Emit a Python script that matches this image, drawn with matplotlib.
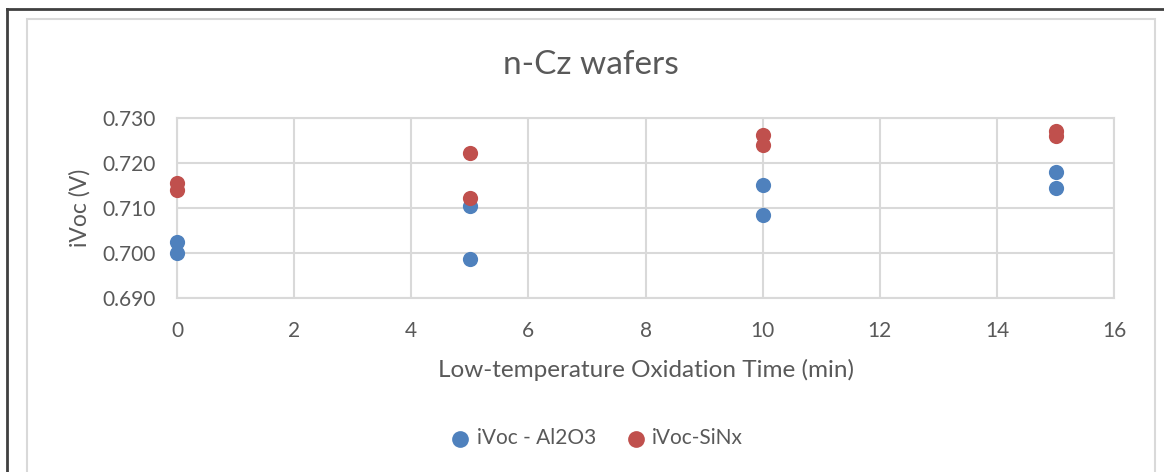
import matplotlib.pyplot as plt
from matplotlib.patches import Rectangle
from matplotlib.lines import Line2D

# oxidation time (min) and measured implied Voc (V), two wafers per time
time_al2o3 = [0, 0, 5, 5, 10, 10, 15, 15]
ivoc_al2o3 = [0.7025, 0.6999, 0.7103, 0.6987, 0.7151, 0.7084, 0.7179, 0.7144]
time_sinx = [0, 0, 5, 5, 10, 10, 15, 15]
ivoc_sinx = [0.7155, 0.7139, 0.7222, 0.7121, 0.7263, 0.7240, 0.7272, 0.7261]

xticks = [0, 2, 4, 6, 8, 10, 12, 14, 16]
yticks = [0.690, 0.700, 0.710, 0.720, 0.730]

plt.rcParams['font.family'] = ['Lato', 'DejaVu Sans']
txt = '#595959'
grid = '#d9d9d9'

fig = plt.figure(figsize=(11.64, 4.72), dpi=100)
ax = fig.add_axes([0.1521, 0.3693, 0.8050, 0.3807])

ax.scatter(time_al2o3, ivoc_al2o3, s=120, color='#4F81BD', label='iVoc - Al2O3',
           zorder=3, clip_on=False, linewidths=0)
ax.scatter(time_sinx, ivoc_sinx, s=120, color='#C0504D', label='iVoc-SiNx',
           zorder=3, clip_on=False, linewidths=0)

ax.set_xlim(0, 16)
ax.set_ylim(0.690, 0.730)
ax.set_xticks(xticks)
ax.set_yticks(yticks)
ax.set_yticklabels([f'{v:.3f}' for v in yticks])
ax.grid(True, color=grid, linewidth=1.5)
ax.set_axisbelow(True)
for s in ax.spines.values():
    s.set_color(grid)
    s.set_linewidth(1.5)
ax.tick_params(length=0, labelsize=15, colors=txt)
ax.tick_params(axis='x', pad=17)
ax.tick_params(axis='y', pad=15)

fig.text(591 / 1164, 1 - 65 / 472, 'n-Cz wafers', fontsize=24, color=txt,
         ha='center', va='center')
ax.set_xlabel('Low-temperature Oxidation Time (min)', fontsize=17.5, color=txt, labelpad=13)
ax.set_ylabel('iVoc (V)', fontsize=16.5, color=txt, labelpad=9)

leg = fig.legend(loc='center', bbox_to_anchor=(0.508, 0.072), ncol=2, frameon=False,
                 fontsize=15, handletextpad=-0.2, columnspacing=0.9, markerscale=1.1)
for t in leg.get_texts():
    t.set_color(txt)

# chart frame: light inner border, dark outer edge
fig.add_artist(Rectangle((27 / 1164, -0.1), (1155 - 27) / 1164, 1 - 19 / 472 + 0.1,
                         transform=fig.transFigure, fill=False,
                         edgecolor='#d9d9d9', linewidth=1.5))
fig.add_artist(Line2D([7 / 1164, 7 / 1164], [0, 1 - 9 / 472], transform=fig.transFigure,
                      color='#404040', linewidth=2))
fig.add_artist(Line2D([7 / 1164, 1], [1 - 9 / 472, 1 - 9 / 472], transform=fig.transFigure,
                      color='#404040', linewidth=2))

fig.savefig('out.png', dpi=100, facecolor='white')
